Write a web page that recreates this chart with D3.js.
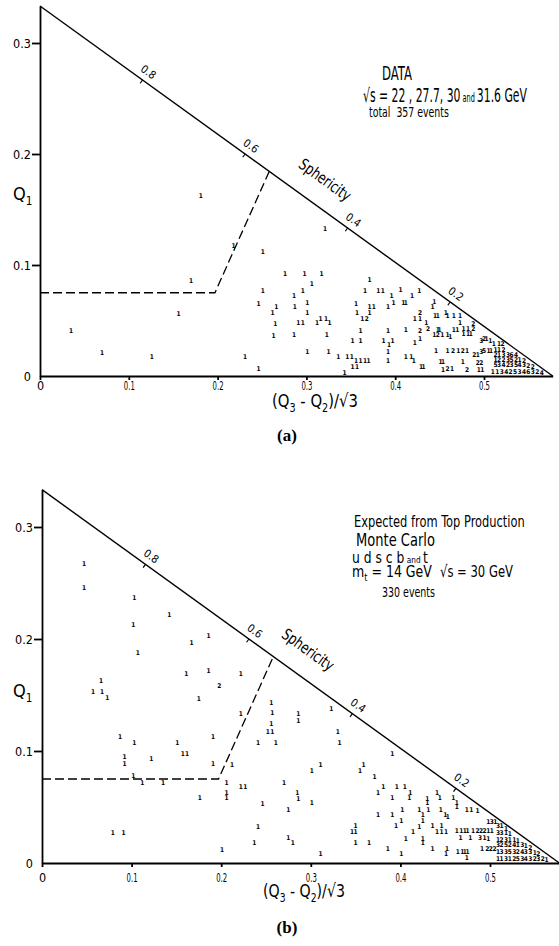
<!DOCTYPE html>
<html>
<head>
<meta charset="utf-8">
<script src="https://cdn.jsdelivr.net/npm/d3@7"></script>
<style>
body { margin: 0; background: #fff; }
svg { display: block; font-family: "DejaVu Sans Condensed", "Liberation Sans Narrow", sans-serif; }
svg text { white-space: pre; }
.hyp { stroke: #000; stroke-width: 1.4; fill: none; }
.cut { stroke: #000; stroke-width: 1.3; stroke-dasharray: 9 4; fill: none; }
.axis path, .axis line { stroke: #000; stroke-width: 1.8; }
.axis text { font-family: "DejaVu Sans Condensed", sans-serif; font-size: 12.5px; fill: #000; }
.ev { font-size: 6.5px; font-weight: bold; fill: #000; }
.sph line { stroke: #000; stroke-width: 1.2; }
.sph text { font-size: 11px; }
.tag { font-family: "Liberation Serif", "DejaVu Serif", serif; font-weight: bold; font-size: 17px; }
</style>
</head>
<body>
<div id="chart"></div>
<script>
const width = 559
const height = 946

// tick values
const xTicks = [0, 0.1, 0.2, 0.3, 0.4, 0.5]
const yTicks = [0, 0.1, 0.2, 0.3]
const sphTicks = [0.8, 0.6, 0.4, 0.2]

// dashed cut boundary (x, Q1)
const cutLine = [[0, 0.075], [0.197, 0.075], [0.258, 0.184]]

// texts
const dataNotes = ['DATA', '√s = 22 , 27.7, 30 and 31.6 GeV', 'total  357 events']
const mcNotes = ['Expected from Top Production', 'Monte Carlo', 'u d s c b and t', 'm_t = 14 GeV', '√s = 30 GeV', '330 events']

// events: [ (Q3-Q2)/sqrt3, Q1, count ]
const dataEvents = [
    [0.035,0.041,1],[0.070,0.021,1],[0.126,0.017,1],[0.156,0.056,1],[0.170,0.086,1],[0.181,0.162,1],
    [0.218,0.117,1],[0.231,0.017,1],[0.246,0.007,1],[0.246,0.065,1],[0.251,0.077,1],[0.251,0.112,1],
    [0.262,0.057,1],[0.266,0.062,1],[0.265,0.047,1],[0.263,0.036,1],
    [0.276,0.092,1],[0.298,0.092,1],[0.317,0.092,1],[0.306,0.083,1],[0.321,0.133,1],[0.296,0.077,1],
    [0.286,0.072,1],[0.301,0.066,1],[0.287,0.062,1],[0.301,0.057,1],[0.291,0.048,1],[0.296,0.048,1],
    [0.312,0.048,1],[0.316,0.052,1],[0.322,0.052,1],[0.326,0.048,1],[0.286,0.037,1],[0.323,0.037,1],
    [0.301,0.022,1],[0.325,0.022,1],
    [0.336,0.017,1],[0.346,0.017,1],[0.351,0.017,1],[0.356,0.014,1],[0.361,0.014,1],[0.366,0.014,1],
    [0.370,0.014,1],[0.352,0.008,1],[0.357,0.008,1],[0.343,0.003,1],
    [0.371,0.087,1],[0.366,0.077,1],[0.381,0.077,1],[0.386,0.077,1],[0.396,0.072,1],[0.406,0.078,1],
    [0.398,0.066,1],[0.409,0.066,1],[0.412,0.066,1],[0.419,0.072,1],[0.427,0.077,1],[0.392,0.062,1],
    [0.371,0.062,1],[0.376,0.062,1],[0.356,0.065,1],[0.357,0.057,1],[0.363,0.052,1],[0.368,0.052,2],
    [0.371,0.057,1],[0.361,0.041,1],[0.352,0.032,1],[0.361,0.032,1],[0.392,0.041,1],[0.387,0.032,1],
    [0.397,0.032,1],[0.393,0.028,1],[0.412,0.042,1],[0.392,0.014,1],[0.392,0.022,1],[0.412,0.017,1],
    [0.418,0.017,1],[0.421,0.014,1],[0.429,0.008,1],[0.432,0.008,1],
    [0.422,0.052,1],[0.428,0.052,1],[0.428,0.057,2],[0.422,0.030,1],[0.428,0.034,1],[0.435,0.048,1],
    [0.428,0.041,2],[0.437,0.043,2],[0.444,0.067,1],[0.442,0.062,1],[0.445,0.054,1],[0.448,0.054,1],
    [0.457,0.057,1],[0.459,0.054,1],[0.466,0.054,1],[0.473,0.054,1],[0.473,0.048,1],[0.488,0.047,2],
    [0.448,0.042,1],[0.450,0.042,1],[0.466,0.042,1],[0.470,0.042,1],[0.477,0.043,1],[0.482,0.043,1],
    [0.488,0.043,2],[0.444,0.037,1],[0.448,0.037,2],[0.453,0.037,1],[0.459,0.037,1],[0.462,0.035,1],
    [0.477,0.038,1],[0.482,0.038,1],[0.485,0.038,1],
    [0.497,0.032,3],[0.500,0.034,2],[0.503,0.034,1],[0.507,0.032,1],[0.511,0.029,1],[0.517,0.029,1],
    [0.521,0.029,2],
    [0.446,0.023,1],[0.459,0.023,1],[0.465,0.023,2],[0.471,0.023,1],[0.476,0.023,2],[0.481,0.023,1],
    [0.489,0.019,2],[0.493,0.019,1],[0.497,0.022,3],[0.500,0.023,5],[0.505,0.023,1],[0.508,0.023,1],
    [0.451,0.013,1],[0.454,0.013,1],[0.476,0.013,1],[0.493,0.012,2],[0.497,0.012,2],[0.454,0.006,1],
    [0.459,0.007,2],[0.464,0.007,1],[0.481,0.006,2],[0.494,0.006,1],[0.498,0.006,1],
    [0.513,0.024,1],[0.517,0.024,1],[0.522,0.024,2],
    [0.513,0.019,2],[0.517,0.019,1],[0.522,0.019,3],[0.527,0.019,3],[0.531,0.019,6],[0.536,0.019,4],
    [0.513,0.015,1],[0.517,0.015,2],[0.522,0.015,2],[0.527,0.015,3],[0.531,0.015,5],[0.536,0.015,2],
    [0.540,0.015,1],[0.545,0.014,2],
    [0.513,0.010,5],[0.517,0.010,3],[0.522,0.010,4],[0.527,0.010,2],[0.531,0.010,3],[0.536,0.010,5],
    [0.540,0.010,4],[0.545,0.010,3],[0.550,0.009,2],[0.555,0.008,2],
    [0.510,0.004,1],[0.515,0.004,1],[0.520,0.004,3],[0.525,0.004,4],[0.530,0.004,2],[0.535,0.004,5],
    [0.540,0.004,3],[0.545,0.004,4],[0.550,0.004,6],[0.555,0.004,3],[0.560,0.004,2],[0.565,0.003,4]
]

const mcEvents = [
    [0.047,0.267,1],[0.047,0.246,1],[0.103,0.237,1],[0.102,0.213,1],[0.142,0.222,1],[0.167,0.197,1],
    [0.186,0.203,1],[0.107,0.188,1],[0.066,0.163,1],[0.057,0.153,1],[0.067,0.153,1],[0.073,0.148,1],
    [0.161,0.169,1],[0.186,0.172,1],[0.198,0.158,2],[0.222,0.169,1],[0.175,0.147,1],
    [0.087,0.113,1],[0.103,0.107,1],[0.092,0.095,1],[0.092,0.089,1],[0.122,0.093,1],[0.151,0.107,1],
    [0.157,0.098,1],[0.162,0.098,1],[0.191,0.113,1],[0.191,0.089,1],[0.102,0.078,1],[0.112,0.072,1],
    [0.135,0.072,1],[0.176,0.058,1],[0.079,0.027,1],[0.091,0.027,1],[0.201,0.012,1],[0.206,0.072,1],
    [0.206,0.063,1],[0.206,0.058,1],[0.212,0.088,1],[0.222,0.133,1],[0.222,0.068,1],[0.227,0.068,1],
    [0.246,0.053,1],[0.241,0.032,1],[0.237,0.018,1],[0.241,0.107,1],[0.252,0.117,1],[0.257,0.117,1],
    [0.256,0.124,1],[0.257,0.134,1],[0.256,0.143,1],[0.261,0.107,1],
    [0.286,0.133,1],[0.286,0.127,1],[0.323,0.138,1],[0.330,0.117,1],[0.332,0.107,1],[0.391,0.098,1],
    [0.311,0.088,1],[0.301,0.082,1],[0.359,0.088,1],[0.355,0.082,1],[0.371,0.077,1],
    [0.270,0.072,1],[0.285,0.063,1],[0.286,0.057,1],[0.301,0.054,1],[0.275,0.048,1],[0.375,0.063,1],
    [0.381,0.068,1],[0.396,0.068,1],[0.405,0.068,1],[0.411,0.063,1],[0.391,0.058,1],[0.410,0.058,1],
    [0.430,0.057,1],[0.430,0.054,1],[0.441,0.063,1],[0.444,0.058,1],[0.375,0.043,1],[0.391,0.043,1],
    [0.402,0.048,1],[0.421,0.048,1],[0.431,0.048,1],[0.445,0.048,1],[0.425,0.043,1],[0.425,0.038,1],
    [0.450,0.043,1],[0.401,0.038,1],[0.395,0.033,1],[0.421,0.032,1],[0.414,0.028,1],[0.436,0.033,1],
    [0.441,0.028,1],[0.446,0.028,1],[0.451,0.028,1],[0.446,0.033,1],[0.350,0.033,1],[0.346,0.028,1],
    [0.350,0.028,1],[0.275,0.023,1],[0.280,0.018,1],[0.350,0.018,1],[0.365,0.018,1],[0.406,0.022,1],
    [0.425,0.022,1],[0.425,0.018,1],[0.386,0.013,1],[0.436,0.013,1],[0.311,0.008,1],[0.401,0.008,1],
    [0.451,0.008,1],
    [0.459,0.058,1],[0.463,0.054,1],[0.463,0.050,1],[0.474,0.048,1],[0.479,0.048,1],[0.486,0.047,1],
    [0.453,0.041,1],
    [0.463,0.029,1],[0.468,0.029,1],[0.472,0.029,1],[0.475,0.029,1],[0.481,0.029,1],[0.486,0.029,2],
    [0.490,0.029,2],[0.494,0.029,2],[0.498,0.029,1],[0.502,0.029,1],
    [0.498,0.037,1],[0.502,0.037,3],[0.506,0.037,1],
    [0.467,0.023,1],[0.478,0.023,1],[0.489,0.023,3],[0.494,0.023,1],[0.498,0.022,1],
    [0.452,0.013,1],[0.491,0.013,1],[0.497,0.013,2],[0.501,0.013,2],[0.505,0.013,2],
    [0.464,0.010,1],[0.469,0.010,1],[0.472,0.010,1],[0.475,0.010,1],[0.474,0.005,1],
    [0.509,0.033,3],[0.513,0.033,1],[0.518,0.031,1],
    [0.509,0.027,3],[0.513,0.027,3],[0.518,0.027,1],[0.522,0.026,1],
    [0.509,0.021,1],[0.513,0.021,2],[0.518,0.021,3],[0.522,0.021,1],[0.527,0.021,1],[0.531,0.020,1],
    [0.509,0.016,3],[0.513,0.016,2],[0.518,0.016,5],[0.522,0.016,2],[0.527,0.016,4],[0.531,0.016,1],
    [0.536,0.016,3],[0.540,0.015,1],[0.545,0.014,2],
    [0.509,0.010,1],[0.513,0.010,3],[0.518,0.010,3],[0.522,0.010,5],[0.527,0.010,3],[0.531,0.010,2],
    [0.536,0.010,4],[0.540,0.010,3],[0.545,0.010,3],[0.550,0.009,1],[0.554,0.008,2],
    [0.509,0.004,1],[0.513,0.004,1],[0.518,0.004,3],[0.522,0.004,1],[0.527,0.004,2],[0.531,0.004,5],
    [0.536,0.004,3],[0.540,0.004,4],[0.545,0.004,3],[0.550,0.004,2],[0.554,0.004,3],[0.559,0.004,2],
    [0.563,0.003,1]
]

const SQ3 = Math.sqrt(3)

// layout of the two panels
const panels = [
    {
        events: dataEvents, notes: dataNotes,
        left: 40, bottom: 376, kx: 888, ky: 1110, xPad: 1, sphX: 0.304,
        xLabel: [272, 407, 86], qLabel: [13, 200], tag: [287, 441], tagText: '(a)',
        noteLayout: [
            { x: 382, y: 80, size: 20, len: 30 },
            { x: 363, y: 102, size: 19, len: 164 },
            { x: 369, y: 117, size: 13.5, len: 80 }
        ]
    },
    {
        events: mcEvents, notes: mcNotes,
        left: 42, bottom: 863, kx: 896, ky: 1120, xPad: 6, sphX: 0.28,
        xLabel: [263, 897, 82], qLabel: [13, 697], tag: [287, 933], tagText: '(b)',
        noteLayout: [
            { x: 354, y: 527, size: 16.5, len: 171 },
            { x: 356, y: 546, size: 18, len: 79 },
            { x: 352, y: 563, size: 15.5, len: 76 },
            { x: 352, y: 577, size: 16.5, len: 80 },
            { x: 440, y: 577, size: 16.5, len: 73 },
            { x: 382, y: 597, size: 13.5, len: 53 }
        ]
    }
]

let svg = d3.select('#chart').append('svg').attr('width', width).attr('height', height)

const fmt = d => d === 0 ? '0' : d3.format('.1f')(d)

// text with " and " set small and "_x" as subscript
function richText(sel, str, size) {
    let shift = 0
    str.split(/( and |_\w)/).filter(s => s).forEach(part => {
        let t = sel.append('tspan')
        if (part === ' and ') {
            t.attr('font-size', size * 0.6).text(' and ')
        } else if (part[0] === '_') {
            t.attr('font-size', size * 0.65).attr('dy', size * 0.25).text(part.slice(1))
            shift = -size * 0.25
            return
        } else {
            t.text(part)
        }
        if (shift) { t.attr('dy', shift); shift = 0 }
    })
}

// squeeze a text horizontally to a given width
function fit(t, len, pre) {
    let w = t.node().getComputedTextLength()
    let k = w > 0 ? len / w : 1
    t.attr('transform', `${pre || ''} scale(${k}, 1)`)
}

panels.forEach(p => {
    let x = d3.scaleLinear().domain([0, 1 / SQ3]).range([p.left, p.left + p.kx / SQ3])
    let y = d3.scaleLinear().domain([0, 1 / 3]).range([p.bottom, p.bottom - p.ky / 3])

    let g = svg.append('g')

    // axes
    let yAxisGroup = g.append('g').attr('class', 'axis')
        .attr('transform', `translate(${p.left}, 0)`)
        .call(d3.axisLeft(y).tickValues(yTicks).tickSize(8).tickSizeOuter(0).tickPadding(1).tickFormat(fmt))
    yAxisGroup.selectAll('.tick').filter(d => d === 0).select('line').remove()

    let xAxisGroup = g.append('g').attr('class', 'axis')
        .attr('transform', `translate(0, ${p.bottom})`)
        .call(d3.axisBottom(x).tickValues(xTicks).tickSize(4).tickSizeOuter(0).tickPadding(p.xPad).tickFormat(fmt))
    xAxisGroup.selectAll('.tick text').filter(d => d !== 0)
        .each(function () { fit(d3.select(this), 11) })

    // hypotenuse (Q1 = Q2)
    let line = d3.line().x(d => x(d[0])).y(d => y(d[1]))
    g.append('path').attr('class', 'hyp').attr('d', line([[0, 1 / 3], [1 / SQ3, 0]]))

    // cut boundary
    g.append('path').attr('class', 'cut').attr('d', line(cutLine))

    // sphericity scale along hypotenuse
    let dx = x(1 / SQ3) - x(0), dy = y(0) - y(1 / 3)
    let len = Math.hypot(dx, dy)
    let ux = dx / len, uy = dy / len
    let nx = uy, ny = -ux
    let ang = Math.atan2(dy, dx) * 180 / Math.PI

    let sph = g.append('g').attr('class', 'sph')
    sphTicks.forEach(s => {
        let px = x((1 - s) / SQ3), py = y(s / 3)
        sph.append('line')
            .attr('x1', px).attr('y1', py)
            .attr('x2', px - nx * 4).attr('y2', py - ny * 4)
        sph.append('text')
            .attr('transform', `translate(${px + nx * 10}, ${py + ny * 10}) rotate(${ang})`)
            .attr('text-anchor', 'middle').attr('dy', '0.35em')
            .text(fmt(s))
    })
    let sx = x(p.sphX), sy = y((1 - p.sphX * SQ3) / 3)
    let sphLabel = g.append('text')
        .attr('text-anchor', 'middle').attr('dy', '0.35em')
        .attr('font-size', 16)
        .text('Sphericity')
    fit(sphLabel, 60, `translate(${sx + nx * 26}, ${sy + ny * 26}) rotate(${ang})`)

    // events
    g.selectAll('text.ev').data(p.events).join('text')
        .attr('class', 'ev')
        .attr('x', d => x(d[0]))
        .attr('y', d => y(d[1]))
        .attr('text-anchor', 'middle')
        .attr('dy', '0.35em')
        .text(d => d[2])

    // axis titles
    let xl = g.append('text').attr('font-size', 18)
    richText(xl, '(Q_3 - Q_2)/√3', 18)
    fit(xl, p.xLabel[2], `translate(${p.xLabel[0]}, ${p.xLabel[1]})`)

    let yl = g.append('text').attr('x', p.qLabel[0]).attr('y', p.qLabel[1]).attr('font-size', 18)
    richText(yl, 'Q_1', 18)

    // annotation
    p.notes.forEach((n, i) => {
        let l = p.noteLayout[i]
        let t = g.append('text').attr('font-size', l.size)
        richText(t, n, l.size)
        fit(t, l.len, `translate(${l.x}, ${l.y})`)
    })

    g.append('text').attr('class', 'tag')
        .attr('x', p.tag[0]).attr('y', p.tag[1])
        .attr('text-anchor', 'middle')
        .text(p.tagText)
})
</script>
</body>
</html>
